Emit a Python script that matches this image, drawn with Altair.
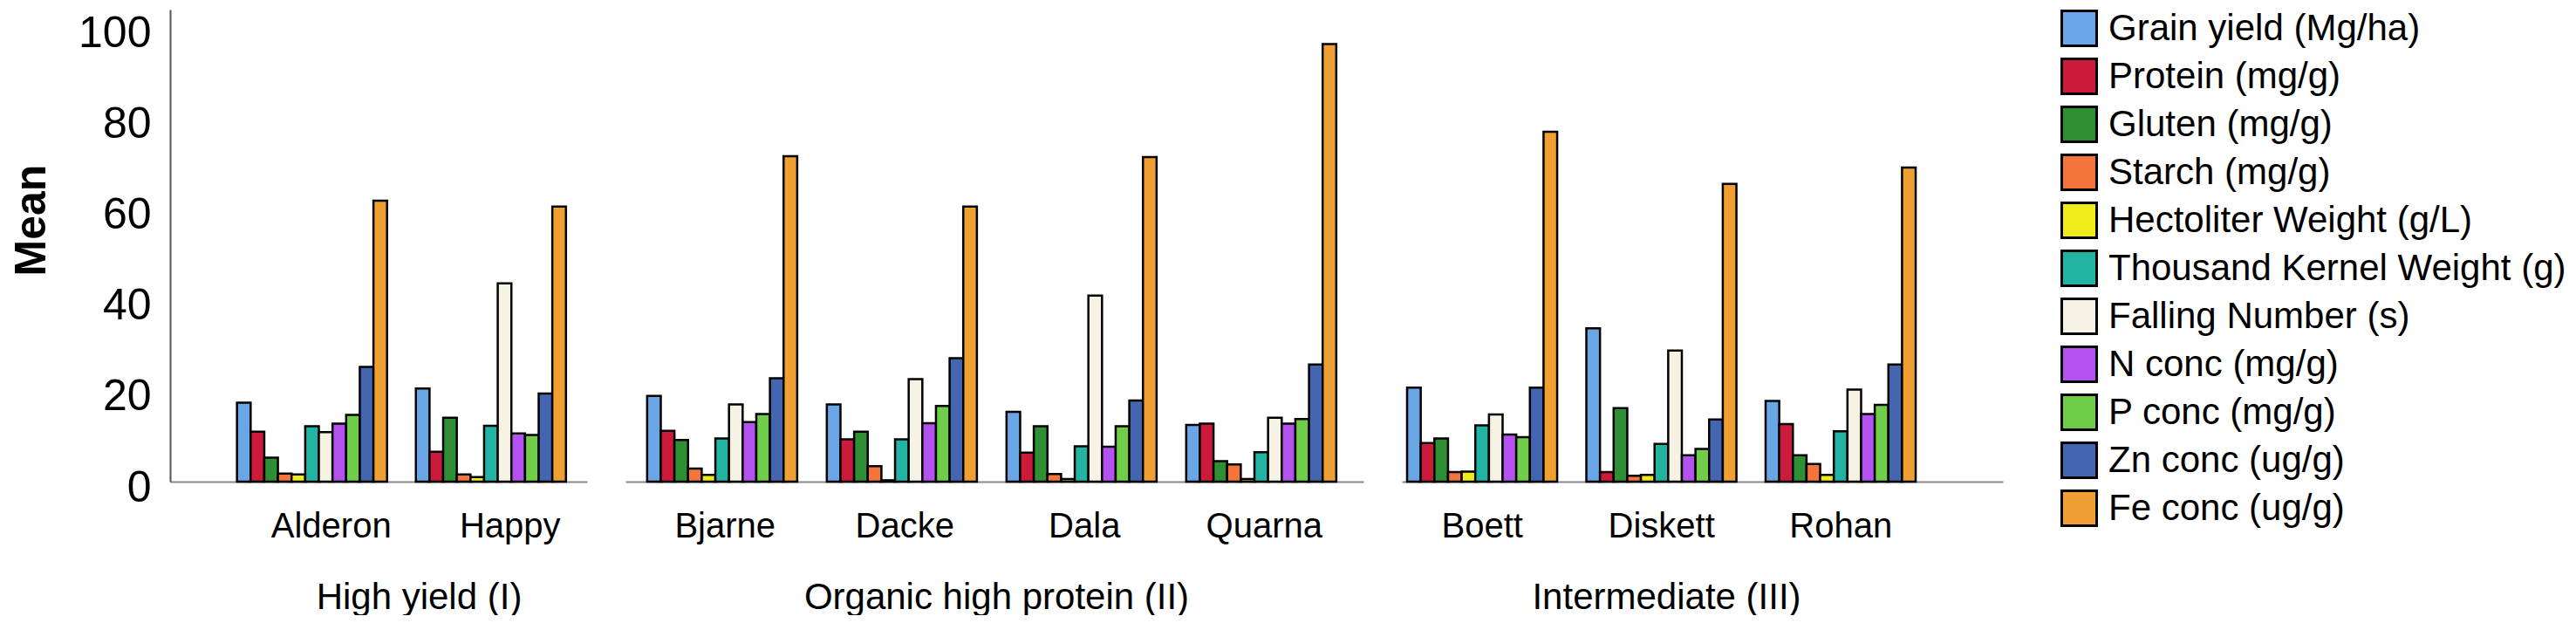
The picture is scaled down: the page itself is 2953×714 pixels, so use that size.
import altair as alt
import pandas as pd

measures = [
    "Grain yield (Mg/ha)", "Protein (mg/g)", "Gluten (mg/g)", "Starch (mg/g)",
    "Hectoliter Weight (g/L)", "Thousand Kernel Weight (g)", "Falling Number (s)",
    "N conc (mg/g)", "P conc (mg/g)", "Zn conc (ug/g)", "Fe conc (ug/g)",
]
colors = ["#6aa6e6", "#cc1a3a", "#2f8f35", "#f4743b", "#f0eb1a", "#23b3a3",
          "#f6f3e4", "#b452ef", "#6fcd4a", "#4466b0", "#f0a032"]

groups = ["High yield (I)", "Organic high protein (II)", "Intermediate (III)"]
group_cultivars = [["Alderon", "Happy"],
                   ["Bjarne", "Dacke", "Dala", "Quarna"],
                   ["Boett", "Diskett", "Rohan"]]

alderon = [17.4, 11.0, 5.3, 1.8, 1.6, 12.2, 10.9, 12.8, 14.7, 25.3, 61.9]
happy   = [20.5, 6.6, 14.1, 1.6, 1.0, 12.3, 43.7, 10.6, 10.3, 19.4, 60.6]
bjarne  = [18.9, 11.2, 9.2, 2.9, 1.5, 9.5, 17.0, 13.1, 14.9, 22.8, 71.7]
dacke   = [17.0, 9.3, 11.0, 3.4, 0.3, 9.3, 22.6, 12.9, 16.7, 27.2, 60.6]
dala    = [15.4, 6.4, 12.2, 1.7, 0.6, 7.8, 41.0, 7.7, 12.2, 17.9, 71.5]
quarna  = [12.5, 12.8, 4.5, 3.8, 0.6, 6.5, 14.1, 12.8, 13.8, 25.8, 96.4]
boett   = [20.7, 8.5, 9.5, 2.1, 2.2, 12.4, 14.8, 10.4, 9.8, 20.7, 77.1]
diskett = [33.8, 2.1, 16.2, 1.3, 1.5, 8.3, 28.9, 5.8, 7.2, 13.7, 65.6]
rohan   = [17.8, 12.7, 5.8, 3.9, 1.5, 11.1, 20.3, 14.9, 16.9, 25.8, 69.2]

values = {"Alderon": alderon, "Happy": happy, "Bjarne": bjarne, "Dacke": dacke,
          "Dala": dala, "Quarna": quarna, "Boett": boett, "Diskett": diskett,
          "Rohan": rohan}

rows = []
for g, cults in zip(groups, group_cultivars):
    for c in cults:
        for m, v in zip(measures, values[c]):
            rows.append({"group": g, "cultivar": c, "measure": m, "value": v})
df = pd.DataFrame(rows)

FONT = "Liberation Sans"
NARROW = "Liberation Sans Narrow, Arial Narrow, Liberation Sans"

legend = alt.Legend(
    title=None, orient="right", offset=13, padding=0,
    symbolType="square", symbolSize=1600, symbolStrokeColor="black",
    symbolStrokeWidth=3, symbolOpacity=1, symbolOffset=53,
    labelFont=FONT, labelFontSize=42,
    labelColor="black", labelLimit=1000, rowPadding=2, labelOffset=12,
)

# (width, paddingOuter, align, labelOffset, titleX)
panel_cfg = [
    (478, 0.246, 0.76, 22, 285),
    (846, 0.134, 0.45, 3, 425),
    (689, 0.257, 0.057, 0, 303),
]


def make_panel(i):
    width, po, al, loff, tx = panel_cfg[i]
    sub = df[df["group"] == groups[i]]
    x = alt.X(
        "cultivar:N", sort=group_cultivars[i],
        scale=alt.Scale(paddingInner=0.161, paddingOuter=po, align=al),
        axis=alt.Axis(
            title=groups[i], labelAngle=0, ticks=False, labelPadding=31,
            labelOffset=loff, labelFont=FONT, labelFontSize=40,
            labelColor="black", domainColor="#8a8a8a", domainWidth=2,
            titleFont=FONT, titleFontSize=42, titleFontWeight="normal",
            titleColor="black", titleX=tx, titleY=112, titleAlign="center",
            titleBaseline="top", grid=False,
        ),
    )
    if i == 0:
        yaxis = alt.Axis(
            title="Mean", values=[0, 20, 40, 60, 80, 100], ticks=False,
            labelPadding=22, labelOffset=7, labelFont=NARROW, labelFontSize=50,
            labelColor="black", domainColor="#555555", domainWidth=2,
            titleFont=FONT, titleFontSize=50, titleFontWeight="bold",
            titleColor="black", titleAngle=270, titleX=-144, titleY=241,
            titleAlign="center", titleBaseline="alphabetic", grid=False,
        )
    else:
        yaxis = None
    y = alt.Y("value:Q", scale=alt.Scale(domain=[0, 104.0], nice=False, zero=True),
              axis=yaxis)
    return alt.Chart(sub).mark_bar(stroke="black", strokeWidth=2.5).encode(
        x=x,
        xOffset=alt.XOffset("measure:N", sort=measures,
                            scale=alt.Scale(paddingInner=0, paddingOuter=0)),
        y=y,
        color=alt.Color("measure:N", sort=measures,
                        scale=alt.Scale(domain=measures, range=colors),
                        legend=legend),
    ).properties(width=width, height=541)


chart = alt.hconcat(
    make_panel(0), make_panel(1), make_panel(2), spacing=44, bounds="flush"
).resolve_scale(
    x="independent", color="shared"
).properties(
    padding={"left": 3, "top": 3, "right": 0, "bottom": 0}
).configure_view(
    stroke=None
)

chart.save("out.html", embed_options={"renderer": "svg", "actions": False})
